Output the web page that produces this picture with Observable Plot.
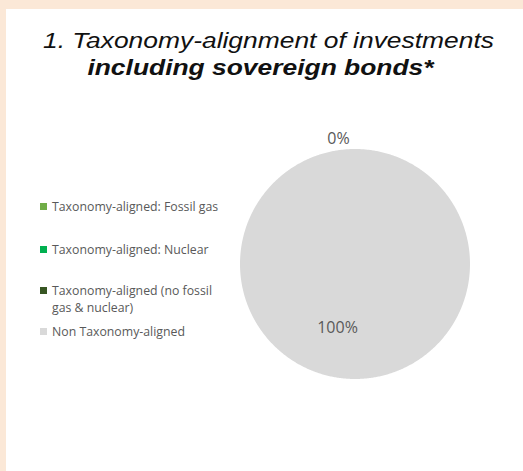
<!DOCTYPE html>
<html>
<head>
<meta charset="utf-8">
<script src="https://cdn.jsdelivr.net/npm/d3@7"></script>
<script src="https://cdn.jsdelivr.net/npm/@observablehq/plot@0.6"></script>
<style>
  html { margin: 0; padding: 0; background: #ffffff; overflow: hidden; }
  body { margin: 0; padding: 0; width: 523px; height: 471px; position: relative; overflow: hidden; background: #ffffff; }
  #bandTop { position: absolute; left: 0; top: 0; width: 100vw; height: 9px; background: #fbe8d7; }
  #bandLeft { position: absolute; left: 0; top: 0; width: 6px; height: 100vh; background: #fbe8d7; }
  .title { position: absolute; left: 0; width: 523px; text-align: center; font-family: "Liberation Sans", Arial, sans-serif;
           font-size: 22px; line-height: 22px; font-style: italic; color: #111; white-space: nowrap; transform: scaleX(1.2); transform-origin: 50% 50%; }
  #chart { position: absolute; left: 0; top: 0; }
  .leg { position: absolute; left: 52px; font-family: "Open Sans", sans-serif; font-size: 12.3px; line-height: 17px; color: #595959; white-space: nowrap; }
  .sw { position: absolute; left: 40px; width: 7px; height: 7px; }
</style>
</head>
<body>
<div id="bandTop"></div>
<div id="bandLeft"></div>
<div class="title" style="top:30px; left:7px;">1. Taxonomy-alignment of investments</div>
<div class="title" style="top:57px; left:-1px; font-weight:bold;">including sovereign bonds*</div>
<div id="chart"></div>
<div id="legend"></div>
<script>
// ---- data ----
const categories = [
  "Taxonomy-aligned: Fossil gas",
  "Taxonomy-aligned: Nuclear",
  "Taxonomy-aligned (no fossil gas & nuclear)",
  "Non Taxonomy-aligned"
];
const legendLabels = [
  ["Taxonomy-aligned: Fossil gas"],
  ["Taxonomy-aligned: Nuclear"],
  ["Taxonomy-aligned (no fossil", "gas & nuclear)"],
  ["Non Taxonomy-aligned"]
];
const values = [0, 0, 0, 100];
const colors = ["#70ad47", "#00b050", "#375623", "#d9d9d9"];

// ---- pie geometry from data ----
const pie = d3.pie().sort(null).value(d => d.value).startAngle(0).endAngle(2 * Math.PI);
const arcs = pie(categories.map((c, i) => ({category: c, value: values[i]})));
const pts = [];
for (const a of arcs) {
  const n = Math.max(2, Math.ceil((a.endAngle - a.startAngle) / (Math.PI / 360)));
  pts.push({category: a.data.category, x: 0, y: 0});
  for (let k = 0; k <= n; k++) {
    const t = a.startAngle + (a.endAngle - a.startAngle) * k / n;
    pts.push({category: a.data.category, x: Math.sin(t), y: Math.cos(t)});
  }
}
const total = d3.sum(values);
const alignedShare = d3.sum(values.slice(0, 3)) / total;
const nonShare = values[3] / total;
const labels = [
  {text: d3.format(".0%")(alignedShare), angle: -7.5 * Math.PI / 180, r: 1.1},
  {text: d3.format(".0%")(nonShare), angle: 195.2 * Math.PI / 180, r: 0.58}
];

const chart = Plot.plot({
  width: 523,
  height: 471,
  style: {background: "transparent", overflow: "visible"},
  x: {domain: [-1, 1], range: [239.5, 469.5], axis: null},
  y: {domain: [-1, 1], range: [378.5, 148.5], axis: null},
  color: {domain: categories, range: colors},
  marks: [
    Plot.line(pts, {x: "x", y: "y", z: "category", fill: "category", stroke: "none", curve: "linear-closed"}),
    Plot.text(labels, {
      x: d => d.r * Math.sin(d.angle),
      y: d => d.r * Math.cos(d.angle),
      text: "text",
      fontSize: 16,
      fontFamily: "Open Sans",
      fill: "#595959"
    })
  ]
});
document.getElementById("chart").appendChild(chart);

// ---- legend ----
const legendTops = [198, 240.5, 282, 323];
const leg = document.getElementById("legend");
legendLabels.forEach((lines, i) => {
  const sw = document.createElement("div");
  sw.className = "sw";
  sw.style.background = colors[i];
  sw.style.top = (legendTops[i] + 5) + "px";
  leg.appendChild(sw);
  const t = document.createElement("div");
  t.className = "leg";
  t.style.top = legendTops[i] + "px";
  t.innerHTML = lines.join("<br>");
  leg.appendChild(t);
});
</script>
</body>
</html>
